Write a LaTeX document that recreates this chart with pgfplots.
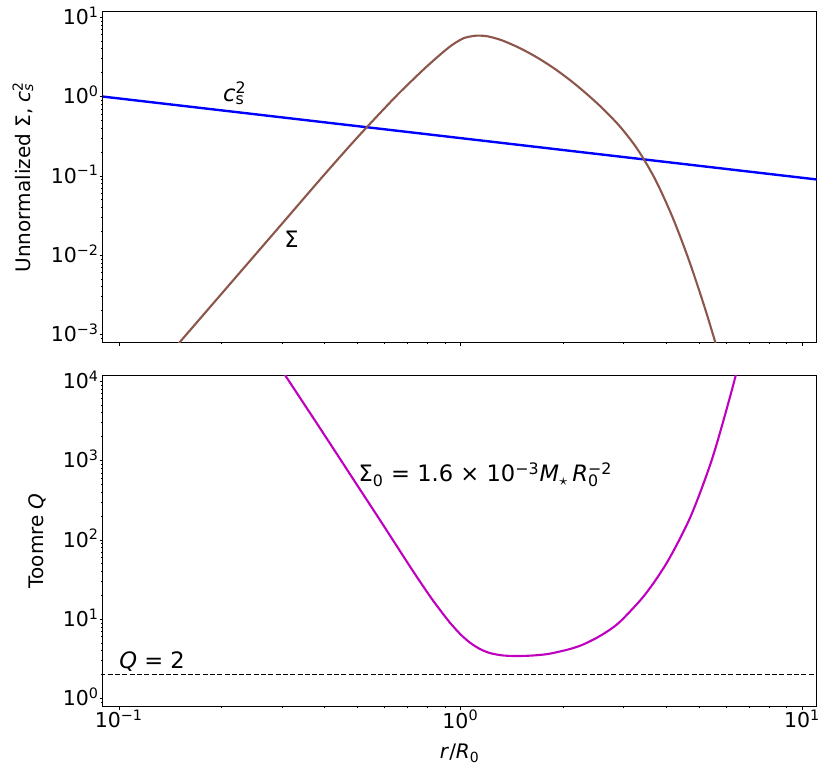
\documentclass[border=0pt]{standalone}
\usepackage{fontspec}
\setmainfont{DejaVu Sans}
\usepackage{pgfplots}
\pgfplotsset{compat=1.18}

\definecolor{sigmabrown}{HTML}{8C564B}
\definecolor{qmagenta}{HTML}{BF00BF}

\newcommand{\tickfont}{\fontsize{10.25}{12}\selectfont}
\newcommand{\labfont}{\fontsize{11.3}{13}\selectfont}

\pgfplotsset{
  mypanel/.style={
    scale only axis, width=356.9pt, height=165.5pt,
    xmin=0.0898, xmax=11.04,
    tick pos=left, tick align=outside,
    major tick length=1.75pt, minor tick length=1pt,
    every tick/.style={black, line width=0.4pt},
    axis line style={line width=0.5pt},
    tick label style={font=\tickfont},
    label style={font=\labfont},
    xtick={0.1,1,10},
    minor xtick={0.2,0.3,0.4,0.5,0.6,0.7,0.8,0.9,2,3,4,5,6,7,8,9},
    xticklabel style={anchor=north, inner sep=0pt},
    yticklabel style={anchor=base east, inner sep=0pt, yshift=-0.365em},
  },
}

\begin{document}
\begin{tikzpicture}
\useasboundingbox (-51.5pt,-32.5pt) rectangle (364pt,353.15pt);

% upper panel: Sigma and c_s^2
\begin{loglogaxis}[mypanel, at={(0,182pt)}, anchor=south west,
    ymin=8.0e-4, ymax=11.9,
    xticklabels={,,},
    ytick={0.001,0.01,0.1,1,10},
    yticklabels={10\textsuperscript{−3},10\textsuperscript{−2},10\textsuperscript{−1},10\textsuperscript{0},10\textsuperscript{1}},
    minor ytick={0.0009,0.002,0.003,0.004,0.005,0.006,0.007,0.008,0.009,
      0.02,0.03,0.04,0.05,0.06,0.07,0.08,0.09,0.2,0.3,0.4,0.5,0.6,0.7,0.8,0.9,
      2,3,4,5,6,7,8,9},
    ylabel={Unnormalized Σ, \textit{c}\rlap{\textsubscript{\textit{s}}}\textsuperscript{2}},
    every axis y label/.style={at={(axis description cs:-0.1121,0.5)}, rotate=90, anchor=center},
  ]
\addplot[blue, line width=1.2pt] coordinates {(0.0898,1.001) (1,0.3) (11.04,0.0903)};
\addplot[sigmabrown, line width=1.05pt, smooth] coordinates {
  (0.14125,5.821e-4) (0.29608,0.023335) (0.39811,0.10233) (0.50119,0.31261)
  (0.63096,0.90157) (0.70795,1.4791) (0.79433,2.3714) (0.89125,3.6728)
  (0.95499,4.6238) (1.0233,5.4702) (1.0965,5.8345) (1.1402,5.8722)
  (1.2023,5.7491) (1.3183,5.1475) (1.4791,4.1601) (1.6596,3.1923)
  (1.8621,2.3329) (2.0893,1.6233) (2.3442,1.0755) (2.6303,0.68234)
  (2.9512,0.40426) (3.3113,0.21094) (3.7154,0.090501) (4.1687,0.030665)
  (4.6774,8.3489e-3) (5.2481,1.8685e-3) (5.8884,3.5602e-4)
};
\node[anchor=base west, font=\labfont, inner sep=0pt] at (axis cs:0.2013,0.88)
  {\textit{c}\rlap{\textsubscript{s}}\textsuperscript{2}};
\node[anchor=base west, font=\labfont, inner sep=0pt] at (axis cs:0.304,0.0125) {Σ};
\end{loglogaxis}

% lower panel: Toomre Q
\begin{loglogaxis}[mypanel, at={(0,0)}, anchor=south west,
    ymin=0.80, ymax=1.19e4,
    xticklabels={10\textsuperscript{−1},10\textsuperscript{0},10\textsuperscript{1}},
    ytick={1,10,100,1000,10000},
    yticklabels={10\textsuperscript{0},10\textsuperscript{1},10\textsuperscript{2},10\textsuperscript{3},10\textsuperscript{4}},
    minor ytick={0.9,2,3,4,5,6,7,8,9,20,30,40,50,60,70,80,90,
      200,300,400,500,600,700,800,900,2000,3000,4000,5000,6000,7000,8000,9000},
    xlabel={\textit{r}/\textit{R}\textsubscript{0}},
    ylabel={Toomre \textit{Q}},
    every axis y label/.style={at={(axis description cs:-0.0925,0.5)}, rotate=90, anchor=center},
    every axis x label/.style={at={(axis description cs:0.5,-0.142)}, anchor=center},
  ]
\addplot[qmagenta, line width=1.05pt, smooth] coordinates {
  (0.29512,15346) (0.30620,12023) (0.38905,2511.9) (0.49659,501.19)
  (0.58116,177.83) (0.72778,39.811) (0.81413,19.498) (0.85114,14.962)
  (0.90086,10.839) (0.93178,9.0157) (1.0,6.4565) (1.0661,5.0699)
  (1.1402,4.2170) (1.2203,3.7497) (1.3183,3.5156) (1.4289,3.4435)
  (1.5488,3.4594) (1.6711,3.5237) (1.8281,3.6898) (2.0941,4.2267)
  (2.2909,4.8306) (2.5704,6.2230) (2.8973,8.9125) (3.3574,17.298)
  (3.6728,28.576) (4.0179,51.642) (4.3652,99.312) (4.6989,190.55)
  (5.0119,380.19) (5.3827,891.25) (5.6234,1621.8) (5.8884,3235.9)
  (6.1660,6606.9) (6.3973,12023) (6.6069,21380)
};
\addplot[black, line width=0.6pt, dash pattern=on 2.5pt off 1.15pt] coordinates {(0.08,2) (12,2)};
\node[anchor=base west, font=\labfont, inner sep=0pt] at (axis cs:0.1,2.39) {\textit{Q} = 2};
\node[anchor=base west, font=\labfont, inner sep=0pt] at (axis cs:0.502,538)
  {Σ\textsubscript{0} = 1.6 × 10\textsuperscript{−3}\textit{M}\textsubscript{$\star$}\,\textit{R}\rlap{\textsubscript{0}}\textsuperscript{−2}};
\end{loglogaxis}
\end{tikzpicture}
\end{document}
